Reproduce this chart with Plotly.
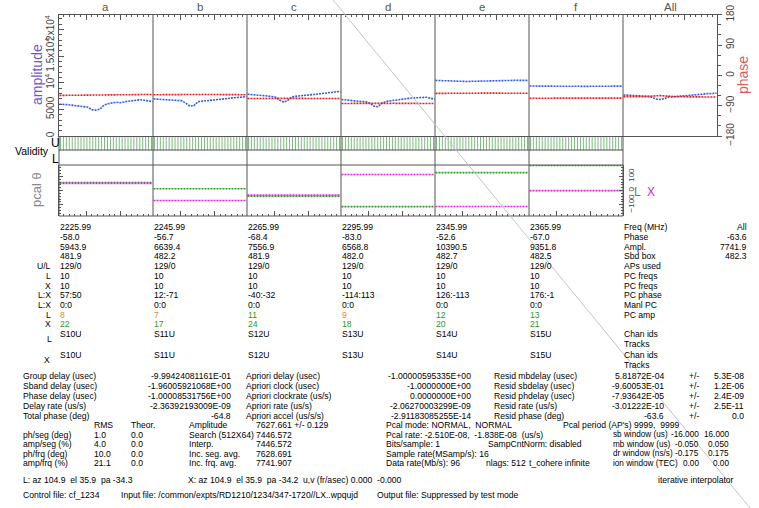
import plotly.graph_objects as go

W, H = 759, 508
FONT = "Liberation Sans, Arial, Helvetica, sans-serif"

CHANNELS = ["a", "b", "c", "d", "e", "f"]
COLUMN_TITLES = CHANNELS + ["All"]

# amplitude vs. time, one list per channel column plus the combined "All" column
amp_a = [5980, 5980, 5890, 5800, 5700, 5610, 5610, 5420, 4950, 4860, 5050, 5800,
         6070, 6260, 6350, 6260, 6450, 6540, 6630, 6730, 6820, 6730, 6540, 6450]
amp_b = [6970, 6920, 6860, 6820, 6770, 6730, 6670, 6630, 6170, 5610, 5700, 6450,
         6540, 6600, 6670, 6730, 6820, 6920, 7010, 7100, 7200, 7290, 7330, 7380]
amp_c = [7850, 7810, 7740, 7660, 7590, 7510, 7420, 7290, 6730, 6350, 6730, 7340,
         7480, 7530, 7630, 7700, 7780, 7850, 7940, 8040, 8130, 8220, 8320, 8410]
amp_d = [6860, 6790, 6710, 6630, 6560, 6490, 6410, 6170, 5610, 5510, 6170, 6500,
         6620, 6710, 6800, 6920, 7010, 7100, 7160, 7210, 7270, 7290, 7100, 6910]
amp_e = [10450, 10420, 10380, 10320, 10270, 10230, 10210, 10220, 10240, 10280, 10310, 10340,
         10370, 10390, 10410, 10420, 10440, 10450, 10460, 10470, 10470, 10460, 10450, 10440]
amp_f = [9390, 9380, 9370, 9350, 9330, 9310, 9290, 9280, 9270, 9280, 9290, 9300,
         9310, 9320, 9330, 9340, 9350, 9350, 9360, 9360, 9370, 9370, 9370, 9380]
amp_all = [7720, 7680, 7640, 7590, 7540, 7500, 7460, 7300, 6950, 6860, 7000, 7300,
           7380, 7430, 7480, 7530, 7600, 7680, 7760, 7850, 7900, 7960, 8000, 8040]

# phase vs. time (deg)
phase_a = [-59.5, -59.3, -59.0, -58.8, -58.6, -58.4, -58.2, -58.0, -57.9, -57.8, -57.7, -57.6,
           -57.5, -57.4, -57.3, -57.2, -57.1, -57.0, -57.0, -56.9, -56.9, -56.8, -56.8, -56.7]
phase_b = [-57.5, -57.4, -57.3, -57.2, -57.0, -56.8, -56.6, -56.2, -55.6, -55.0, -55.2, -55.8,
           -56.4, -56.7, -56.9, -57.0, -57.1, -57.2, -57.2, -57.3, -57.3, -57.4, -57.4, -57.5]
phase_c = [-68.8, -68.7, -68.6, -68.5, -68.4, -68.3, -68.1, -67.8, -67.0, -66.5, -67.2, -68.0,
           -68.3, -68.4, -68.5, -68.6, -68.6, -68.7, -68.7, -68.8, -68.8, -68.8, -68.9, -68.9]
phase_d = [-83.4, -83.3, -83.3, -83.2, -83.1, -83.0, -82.8, -82.4, -81.6, -81.2, -81.8, -82.5,
           -82.8, -83.0, -83.1, -83.2, -83.2, -83.3, -83.3, -83.4, -83.4, -83.4, -83.5, -83.5]
phase_e = [-53.5, -53.4, -53.2, -53.0, -52.7, -52.3, -51.8, -51.4, -51.2, -51.3, -51.6, -52.0,
           -52.3, -52.5, -52.7, -52.8, -52.9, -53.0, -53.0, -53.1, -53.1, -53.2, -53.2, -53.3]
phase_f = [-67.8, -67.8, -67.7, -67.6, -67.4, -67.0, -66.2, -65.6, -65.8, -66.4, -66.9, -67.1,
           -67.2, -67.3, -67.3, -67.3, -67.4, -67.4, -67.4, -67.5, -67.5, -67.5, -67.6, -67.6]
phase_all = [-63.0, -63.2, -63.3, -63.4, -63.5, -63.4, -63.0, -61.8, -60.5, -60.0, -60.8, -62.2,
             -63.0, -63.4, -63.6, -63.8, -63.9, -64.0, -64.1, -64.1, -64.2, -64.2, -64.3, -64.3]

AMP_SERIES = [amp_a, amp_b, amp_c, amp_d, amp_e, amp_f, amp_all]
PHASE_SERIES = [phase_a, phase_b, phase_c, phase_d, phase_e, phase_f, phase_all]

# per-channel summary
freq_mhz = [2225.99, 2245.99, 2265.99, 2295.99, 2345.99, 2365.99]
chan_phase = [-58.0, -56.7, -68.4, -83.0, -52.6, -67.0]
chan_ampl = [5943.9, 6639.4, 7556.9, 6568.8, 10390.5, 9351.8]
sbd_box = [481.9, 482.2, 481.9, 482.0, 482.7, 482.5]
aps_used = ["129/0", "129/0", "129/0", "129/0", "129/0", "129/0"]
pc_freqs_l = [10, 10, 10, 10, 10, 10]
pc_freqs_x = [10, 10, 10, 10, 10, 10]
pc_phase_l = [57, 12, -40, -114, 126, 176]
pc_phase_x = [50, -71, -32, 113, -113, -1]
manual_pc = ["0:0", "0:0", "0:0", "0:0", "0:0", "0:0"]
pc_amp_l = [8, 7, 11, 9, 12, 13]
pc_amp_x = [22, 17, 24, 18, 20, 21]
chan_ids = ["S10U", "S11U", "S12U", "S13U", "S14U", "S15U"]
all_phase, all_ampl, all_sbd = -63.6, 7741.9, 482.3

# accumulation-period validity flags (upper sideband row), per channel
N_AP = 32
valid_u = [[1] * N_AP for _ in CHANNELS]

AMP_MAX = 22800
BLUE, RED = "#2f5fe0", "#e02020"
PC_GREEN, PC_MAG = "#2a9a2a", "#e020e0"
FRAME = "#555555"
DOTS = "2px,1px"
TXT = 8.6


def px(x):
    return x / W


def py(y):
    return 1 - y / H


fig = go.Figure()

# amplitude / phase time series per column
for i, (amp, ph) in enumerate(zip(AMP_SERIES, PHASE_SERIES)):
    n = len(amp)
    xs = [i + 0.005 + 0.99 * k / (n - 1) for k in range(n)]
    fig.add_trace(go.Scatter(x=xs, y=amp, mode="lines", xaxis="x", yaxis="y",
                             line=dict(color=BLUE, width=1.6, dash=DOTS), hoverinfo="skip"))
    fig.add_trace(go.Scatter(x=xs, y=ph, mode="lines", xaxis="x", yaxis="y2",
                             line=dict(color=RED, width=1.6, dash=DOTS), hoverinfo="skip"))

# validity ticks
vx, vy = [], []
for i, flags in enumerate(valid_u):
    for k, f in enumerate(flags):
        if f:
            x = i + (k + 0.5) / len(flags)
            vx += [x, x, None]
            vy += [1.0, 1.93, None]
fig.add_trace(go.Scatter(x=vx, y=vy, mode="lines", xaxis="x2", yaxis="y3",
                         line=dict(color="#7cbc7c", width=1), hoverinfo="skip"))

# phase-cal phases
for i in range(len(CHANNELS)):
    fig.add_trace(go.Scatter(x=[i + 0.005, i + 0.995], y=[pc_phase_l[i]] * 2, mode="lines",
                             xaxis="x2", yaxis="y4",
                             line=dict(color=PC_GREEN, width=1.6, dash=DOTS), hoverinfo="skip"))
    fig.add_trace(go.Scatter(x=[i + 0.005, i + 0.995], y=[pc_phase_x[i]] * 2, mode="lines",
                             xaxis="x2", yaxis="y4",
                             line=dict(color=PC_MAG, width=1.6, dash=DOTS), hoverinfo="skip"))


def col_ticks(ncol):
    major, minor = [], []
    for c in range(ncol):
        major += [c + 0.29, c + 0.65]
        for m in range(-4, 13):
            t = 0.29 + m * 0.0605
            if 0.02 < t < 0.98:
                minor.append(c + t)
    return major, minor


maj7, min7 = col_ticks(7)
maj6, min6 = col_ticks(6)

top_y0, top_y1 = 14.7, 136
val_y1 = 165
pc_y1 = 216
x_left, x_mid, x_right = 59, 623, 717

fig.update_layout(
    width=W, height=H, margin=dict(l=0, r=0, t=0, b=0, pad=0, autoexpand=False),
    paper_bgcolor="white", plot_bgcolor="white", showlegend=False,
    font=dict(family=FONT, color="#000"),
    xaxis=dict(domain=[px(x_left), px(x_right)], range=[0, 7], anchor="y", side="top",
               automargin=False,
               showline=True, mirror=True, linecolor=FRAME, linewidth=1,
               ticks="inside", tickvals=maj7, ticklen=5, tickcolor=FRAME, showticklabels=False,
               minor=dict(tickvals=min7, ticklen=2.5, ticks="inside", tickcolor=FRAME),
               showgrid=False, zeroline=False),
    yaxis=dict(domain=[py(top_y1), py(top_y0)], range=[0, AMP_MAX], anchor="x", side="left",
               automargin=False,
               showline=True, linecolor=FRAME, ticks="inside", ticklen=5, tickcolor=FRAME,
               tickvals=[0, 5000, 10000, 15000, 20000],
               ticktext=["0", "5000", "10<sup>4</sup>", "1.5x10<sup>4</sup>", "2x10<sup>4</sup>"],
               tickangle=-90, tickfont=dict(size=10, color="#444"),
               minor=dict(dtick=1000, ticklen=2.5, ticks="inside", tickcolor=FRAME),
               showgrid=False, zeroline=False),
    yaxis2=dict(overlaying="y", side="right", range=[-180, 180], anchor="x",
                automargin=False,
                showline=True, linecolor=FRAME, ticks="outside", ticklen=4, tickcolor=FRAME,
                tickvals=[-180, -90, 0, 90, 180], tickangle=-90,
                tickfont=dict(size=10, color="#444"),
                minor=dict(dtick=30, ticklen=2.5, ticks="outside", tickcolor=FRAME),
                showgrid=False, zeroline=False),
    xaxis2=dict(domain=[px(x_left), px(x_mid)], range=[0, 6], anchor="y4",
                automargin=False,
                ticks="inside", tickvals=maj6, ticklen=5, tickcolor=FRAME, showticklabels=False,
                minor=dict(tickvals=min6, ticklen=2.5, ticks="inside", tickcolor=FRAME),
                showline=False, showgrid=False, zeroline=False),
    yaxis3=dict(domain=[py(val_y1), py(top_y1)], range=[0, 2], anchor="x2",
                automargin=False,
                showticklabels=False, ticks="", showgrid=False, zeroline=False, showline=False),
    yaxis4=dict(domain=[py(pc_y1), py(val_y1)], range=[-180, 180], anchor="x2", side="right",
                automargin=False,
                showline=True, linecolor=FRAME, mirror="allticks",
                ticks="inside", ticklen=4, tickcolor=FRAME, tickvals=[-100, 0, 100], tickangle=-90,
                tickfont=dict(size=8, color="#444"),
                minor=dict(dtick=20, ticklen=2, ticks="inside", tickcolor=FRAME),
                showgrid=False, zeroline=False),
)

shapes = []
# column separators
for i in range(1, 7):
    shapes.append(dict(type="line", xref="x", yref="paper", x0=i, x1=i,
                       y0=py(top_y1), y1=py(top_y0), line=dict(color=FRAME, width=1)))
for i in range(1, 6):
    shapes.append(dict(type="line", xref="x2", yref="paper", x0=i, x1=i,
                       y0=py(pc_y1), y1=py(top_y1), line=dict(color=FRAME, width=1)))
# validity / pcal frame
for yy in (150, val_y1, pc_y1):
    shapes.append(dict(type="line", xref="paper", yref="paper", x0=px(x_left), x1=px(x_mid),
                       y0=py(yy), y1=py(yy), line=dict(color=FRAME, width=1)))
for xx in (x_left, x_mid):
    shapes.append(dict(type="line", xref="paper", yref="paper", x0=px(xx), x1=px(xx),
                       y0=py(pc_y1), y1=py(top_y1), line=dict(color=FRAME, width=1)))
# faint diagonal stroke across the page
shapes.append(dict(type="line", xref="paper", yref="paper", x0=px(333), y0=py(0),
                   x1=px(750), y1=py(508), line=dict(color="#c4c4c4", width=1)))

annotations = []


def text(x, y, s, anchor="left", size=TXT, color="#000", angle=0):
    annotations.append(dict(x=px(x), y=py(y), xref="paper", yref="paper", text=s,
                            showarrow=False, xanchor=anchor, yanchor="middle", borderpad=0,
                            textangle=angle, font=dict(family=FONT, size=size, color=color)))


NB = "\u00a0"


def sp2(s):
    return s.replace("  ", NB + NB)


# column titles
for i, t in enumerate(COLUMN_TITLES):
    cx = x_left + (i + 0.5) * (x_right - x_left) / 7
    text(cx, 7, t, anchor="center", size=11.5, color="#555")

# axis titles and panel labels
text(37, 75, "amplitude", anchor="center", size=14, color="#6a5acd", angle=-90)
text(743, 75, "phase", anchor="center", size=14, color="#e05a5a", angle=-90)
text(36, 190, "pcal " + "\u03b8", anchor="center", size=13, color="#888", angle=-90)
text(50.5, 151, "Validity", anchor="right", size=10.5)
text(55, 143, "U", anchor="center", size=12)
text(55, 158.5, "L", anchor="center", size=12)
text(637, 191.5, "L", anchor="center", size=12, color="#3a9a3a")
text(651, 191.5, "X", anchor="center", size=12, color=PC_MAG)

# per-channel table
ROW0, DY = 227.3, 9.7
col_x = [x_left + i * (x_mid - x_left) / 6 for i in range(6)]


def row_y(r):
    return ROW0 + r * DY


rows = [
    ([f"{v:.2f}" for v in freq_mhz], "Freq (MHz)", "", "All"),
    ([f"{v:.1f}" for v in chan_phase], "Phase", "", f"{all_phase:.1f}"),
    ([f"{v:.1f}" for v in chan_ampl], "Ampl.", "", f"{all_ampl:.1f}"),
    ([f"{v:.1f}" for v in sbd_box], "Sbd box", "", f"{all_sbd:.1f}"),
    (aps_used, "APs used", "U/L", None),
    ([str(v) for v in pc_freqs_l], "PC freqs", "L", None),
    ([str(v) for v in pc_freqs_x], "PC freqs", "X", None),
    ([f"{l}:{x}" for l, x in zip(pc_phase_l, pc_phase_x)], "PC phase", "L:X", None),
    (manual_pc, "Manl PC", "L:X", None),
]
for r, (vals, label, left, allv) in enumerate(rows):
    y = row_y(r)
    for cx, v in zip(col_x, vals):
        text(cx, y, v)
    text(x_mid, y, label)
    if left:
        text(52, y, left, anchor="right")
    if allv is not None:
        text(748, y, allv, anchor="right")

AMP_OK = 10
r = len(rows)
for cx, v in zip(col_x, pc_amp_l):
    text(cx, row_y(r), str(v), color="#2a9a2a" if v >= AMP_OK else "#e08a40")
text(52, row_y(r), "L", anchor="right")
text(x_mid, row_y(r), "PC amp")
for cx, v in zip(col_x, pc_amp_x):
    text(cx, row_y(r + 1), str(v), color="#2a9a2a" if v >= AMP_OK else "#e08a40")
text(52, row_y(r + 1), "X", anchor="right")

y_ids1 = row_y(r + 2)
for cx, v in zip(col_x, chan_ids):
    text(cx, y_ids1, v)
text(x_mid, y_ids1, "Chan ids")
text(x_mid, y_ids1 + DY, "Tracks")
text(49, y_ids1 + 5, "L", anchor="center")
y_ids2 = y_ids1 + 2 * DY + 1.5
for cx, v in zip(col_x, chan_ids):
    text(cx, y_ids2, v)
text(x_mid, y_ids2, "Chan ids")
text(x_mid, y_ids2 + DY, "Tracks")
text(47, y_ids2 + 5, "X", anchor="center")

# fit results
fit_rows = [
    ("Group delay (usec)", "-9.99424081161E-01", "Apriori delay (usec)", "-1.00000595335E+00",
     "Resid mbdelay (usec)", "5.81872E-04", "5.3E-08"),
    ("Sband delay (usec)", "-1.96005921068E+00", "Apriori clock (usec)", "-1.0000000E+00",
     "Resid sbdelay (usec)", "-9.60053E-01", "1.2E-06"),
    ("Phase delay (usec)", "-1.00008531756E+00", "Apriori clockrate (us/s)", "0.0000000E+00",
     "Resid phdelay (usec)", "-7.93642E-05", "2.4E-09"),
    ("Delay rate (us/s)", "-2.36392193009E-09", "Apriori rate (us/s)", "-2.06270003299E-09",
     "Resid rate (us/s)", "-3.01222E-10", "2.5E-11"),
    ("Total phase (deg)", "-64.8", "Apriori accel (us/s/s)", "-2.91183085255E-14",
     "Resid phase (deg)", "-63.6", "0.0"),
]
FIT0, FDY = 375.5, 10.1
for k, (l1, v1, l2, v2, l3, v3, e3) in enumerate(fit_rows):
    y = FIT0 + k * FDY
    text(22, y, l1)
    text(232, y, v1, anchor="right")
    text(245, y, l2)
    text(472, y, v2, anchor="right")
    text(493, y, l3)
    text(665, y, v3, anchor="right")
    text(688, y, "+/-")
    text(745, y, e3, anchor="right")

# statistics block
ST0, SDY = 425.0, 9.6
text(93, ST0, "RMS")
text(130, ST0, "Theor.")
text(188, ST0, "Amplitude")
text(255, ST0, "7627.661 +/- 0.129")
text(385, ST0, sp2("Pcal mode: NORMAL,  NORMAL"))
text(562, ST0, sp2("Pcal period (AP's) 9999,  9999"))

stat_rows = [
    ("ph/seg (deg)", "1.0", "0.0", "Search (512X64)", "7446.572"),
    ("amp/seg (%)", "4.0", "0.0", "Interp.", "7446.572"),
    ("ph/frq (deg)", "10.0", "0.0", "Inc. seg. avg.", "7628.691"),
    ("amp/frq (%)", "21.1", "0.0", "Inc. frq. avg.", "7741.907"),
]
windows = [
    ("sb window (us)", "-16.000", "16.000"),
    ("mb window (us)", "-0.050", "0.050"),
    ("dr window (ns/s)", "-0.175", "0.175"),
    ("ion window (TEC)", "0.00", "0.00"),
]
WIN = 8.2
for k, ((lab, rms, th, al, av), (wl, w0, w1)) in enumerate(zip(stat_rows, windows)):
    y = ST0 + (k + 1) * SDY
    text(22, y, lab)
    text(93, y, rms)
    text(130, y, th)
    text(188, y, al)
    text(255, y, av)
    text(612, y, wl, size=WIN)
    text(700, y, w0, anchor="right", size=WIN)
    text(730, y, w1, anchor="right", size=WIN)

text(385, ST0 + SDY, sp2("Pcal rate: -2.510E-08,  -1.838E-08  (us/s)"))
text(385, ST0 + 2 * SDY, "Bits/sample: 1")
text(487, ST0 + 2 * SDY, "SampCntNorm: disabled")
text(385, ST0 + 3 * SDY, "Sample rate(MSamp/s): 16")
text(385, ST0 + 4 * SDY, "Data rate(Mb/s): 96")
text(485, ST0 + 4 * SDY, "nlags: 512")
text(528, ST0 + 4 * SDY, "t_cohere infinite")

text(22, 480, sp2("L: az 104.9  el 35.9  pa -34.3"))
text(187, 480, "X: az 104.9 " + NB + "el 35.9 " + NB + "pa -34.2")
text(302, 480, sp2("u,v (fr/asec) 0.000  -0.000"))
text(735, 480, "iterative interpolator", anchor="right")

text(22, 495, "Control file: cf_1234")
text(120, 495, "Input file: /common/expts/RD1210/1234/347-1720//LX..wpqujd")
text(376, 495, "Output file: Suppressed by test mode")

fig.update_layout(shapes=shapes, annotations=annotations)
fig.write_html("out.html")
